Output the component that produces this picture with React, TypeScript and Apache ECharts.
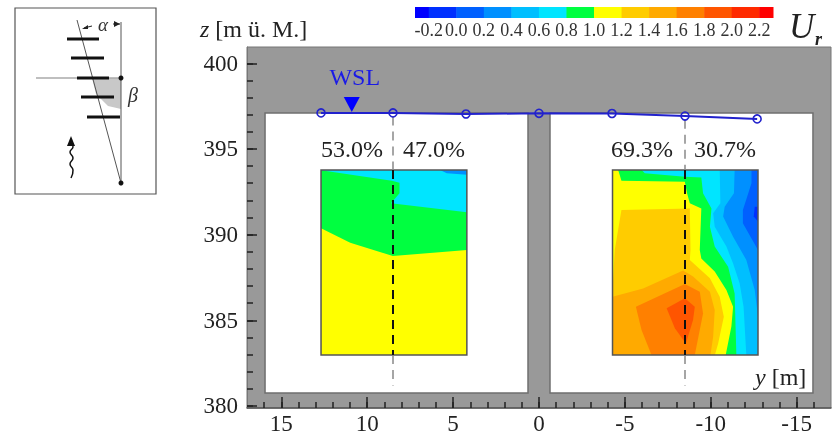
import React, { useEffect, useRef } from "react";
import * as echarts from "echarts";

const SERIF = '"Liberation Serif", "Times New Roman", serif';

const yMajorTicks = [400, 395, 390, 385, 380];
const yMinorTicks = [380,381,382,383,384,385,386,387,388,389,390,391,392,393,394,395,396,397,398,399,400];
const xMajorTicks = [15, 10, 5, 0, -5, -10, -15];
const xMinorTicks = [16,15,14,13,12,11,10,9,8,7,6,5,4,3,2,1,0,-1,-2,-3,-4,-5,-6,-7,-8,-9,-10,-11,-12,-13,-14,-15,-16];

const wsl = [[12.69,397.1],[8.5,397.1],[4.25,397.04],[0,397.08],[-4.25,397.07],[-8.5,396.92],[-12.7,396.75]];
const wslMarker = [[10.9,397.6]];

const panels = [
  [[15.95,397.1],[0.64,397.1],[0.64,380.75],[15.95,380.75]],
  [[-0.64,397.1],[-15.95,397.1],[-15.95,380.75],[-0.64,380.75]],
];

const Z_TOP = 393.77, Z_BOT = 382.97;
const frames = [
  [[12.69,Z_TOP],[4.2,Z_TOP],[4.2,Z_BOT],[12.69,Z_BOT]],
  [[-4.28,Z_TOP],[-12.75,Z_TOP],[-12.75,Z_BOT],[-4.28,Z_BOT]],
];

const C = { b1:"#0030ff", b2:"#0060ff", b3:"#0090ff", b4:"#00bfff", cy:"#00e5ff", gr:"#00ff40", ye:"#ffff00", y2:"#ffcc00", o1:"#ffaa00", o2:"#ff8000", o3:"#ff5500" };

const leftContours: [string, number[][]][] = [
  [C.ye, frames[0]],
  [C.gr, [[12.69,Z_TOP],[4.2,Z_TOP],[4.2,389.1],[8.51,388.75],[10.99,389.53],[12.69,390.37]]],
  [C.cy, [[12.69,393.75],[8.57,393.15],[8.12,393.03],[8.12,392.41],[8.62,391.83],[4.2,391.3],[4.2,Z_TOP],[12.69,Z_TOP]]],
  [C.b3, [[5.76,Z_TOP],[5.37,393.58],[4.2,393.5],[4.2,Z_TOP]]],
];

const rightContours: [string, number[][]][] = [
  [C.b3, frames[1]],
  [C.b2, [[-12.37,Z_TOP],[-12.75,Z_TOP],[-12.75,389.1],[-11.87,390.66],[-11.87,391.44],[-12.37,393.0]]],
  [C.b1, [[-12.56,391.63],[-12.75,391.63],[-12.75,390.76],[-12.5,391.05]]],
  [C.b4, [[-4.28,Z_TOP],[-11.39,Z_TOP],[-11.35,392.41],[-10.81,391.63],[-10.72,391.05],[-11.3,389.88],[-12.07,388.52],[-12.56,386.77],[-12.75,385.21],[-12.75,Z_BOT],[-4.28,Z_BOT]]],
  [C.cy, [[-4.28,Z_TOP],[-10.52,Z_TOP],[-10.56,391.83],[-10.14,391.24],[-10.23,390.46],[-10.91,389.3],[-11.3,388.32],[-11.68,387.16],[-11.91,385.79],[-12.07,Z_BOT],[-4.28,Z_BOT]]],
  [C.gr, [[-4.28,Z_TOP],[-5.97,Z_TOP],[-6.16,393.58],[-8.49,393.38],[-9.45,393.34],[-9.55,392.41],[-10.04,391.53],[-9.95,390.46],[-10.23,389.3],[-11.01,388.13],[-11.39,386.57],[-11.49,Z_BOT],[-4.28,Z_BOT]]],
  [C.ye, [[-4.28,Z_TOP],[-4.61,Z_TOP],[-4.8,393.15],[-8.49,393.09],[-8.62,392.41],[-8.78,391.83],[-9.45,391.53],[-9.36,389.1],[-9.45,388.61],[-10.23,387.84],[-10.91,386.77],[-11.3,385.79],[-11.2,384.63],[-10.87,Z_BOT],[-4.28,Z_BOT]]],
  [C.y2, [[-4.8,391.44],[-8.78,391.53],[-8.82,389.1],[-8.78,388.52],[-9.95,387.45],[-10.52,386.38],[-10.76,385.21],[-10.43,383.65],[-10.24,Z_BOT],[-4.28,Z_BOT],[-4.28,386.77],[-4.41,389.1]]],
  [C.o1, [[-4.28,386.38],[-6.06,386.86],[-8.39,387.9],[-8.97,387.55],[-9.95,386.67],[-10.23,385.6],[-10.14,384.04],[-9.98,Z_BOT],[-4.28,Z_BOT]]],
  [C.o2, [[-5.64,385.79],[-8.49,387.12],[-9.36,386.67],[-9.55,385.4],[-9.07,Z_BOT],[-6.55,Z_BOT],[-5.97,384.43]]],
  [C.o3, [[-7.43,385.7],[-8.49,386.28],[-9.07,385.79],[-8.97,385.02],[-8.55,383.65],[-7.91,384.53]]],
];

const centerBlack = [[[8.5,Z_TOP],[8.5,Z_BOT]],[[-8.5,Z_TOP],[-8.5,Z_BOT]]];
const centerGrey = [[[8.5,396.9],[8.5,Z_TOP]],[[8.5,Z_BOT],[8.5,381.2]],[[-8.5,396.7],[-8.5,Z_TOP]],[[-8.5,Z_BOT],[-8.5,381.2]]];

const colorLevels = [-0.3,-0.2,0,0.2,0.4,0.6,0.8,1.0,1.2,1.4,1.6,1.8,2.0,2.2,2.3];
const colorBands = ["#0000ff","#0030ff","#0060ff","#0090ff","#00bfff","#00e5ff","#00ff40","#ffff00","#ffcc00","#ffaa00","#ff8000","#ff5500","#ff2a00","#ff0000"];
const colorTicks = [-0.2,0,0.2,0.4,0.6,0.8,1.0,1.2,1.4,1.6,1.8,2.0,2.2];

const percentLabels = [["53.0%",352,149],["47.0%",434,149],["69.3%",642,149],["30.7%",725,149]];
const insetBars = [[67,99,39],[71,104,58],[77,109,78],[81,114,97],[87,120,117]];

function polygonSeries(list: any[], fillKey: boolean, extra: any = {}) {
  return {
    type: "custom", xAxisIndex: 0, yAxisIndex: 0, coordinateSystem: "cartesian2d", silent: true, clip: false,
    data: list.map((_: any, i: number) => [i]),
    renderItem: (params: any, api: any) => {
      const it = list[params.dataIndex];
      const pts = (fillKey ? it[1] : it).map((p: number[]) => api.coord(p));
      return { type: "polygon", shape: { points: pts }, style: fillKey ? { fill: it[0] } : extra };
    },
  };
}

function lineSeries(seg: number[][], color: string, width: number, dash: number[]) {
  return { type: "line", xAxisIndex: 0, yAxisIndex: 0, data: seg, symbol: "none", silent: true,
    lineStyle: { color, width, type: dash } };
}

const axisBase = { axisLabel: { show: false }, splitLine: { show: false } };

export default function App() {
  const ref = useRef<HTMLDivElement>(null);
  useEffect(() => {
    const chart = echarts.init(ref.current!, null, { renderer: "svg" });
    const tickLine = (w: number) => ({ color: "#222", width: w });
    const rich = {
      i: { fontFamily: SERIF, fontStyle: "italic", fontSize: 24, fill: "#222" },
      n: { fontFamily: SERIF, fontSize: 24, fill: "#222" },
    };
    chart.setOption({
      animation: false,
      backgroundColor: "#ffffff",
      grid: [
        { left: 247, top: 47, width: 584, height: 361, backgroundColor: "#999999", show: true, borderColor: "#777", borderWidth: 1 },
        { left: 415, top: 7, width: 358, height: 11 },
      ],
      xAxis: [
        { type: "value", gridIndex: 0, min: -17, max: 17, inverse: true, position: "bottom", z: 6,
          axisLine: { show: true, onZero: false, lineStyle: { color: "#555", width: 1.5 } },
          axisTick: { show: true, inside: true, length: 11, customValues: xMajorTicks, lineStyle: tickLine(1.5) },
          axisLabel: { show: true, customValues: xMajorTicks, margin: 4, fontFamily: SERIF, fontSize: 23, color: "#222" },
          splitLine: { show: false } },
        { type: "value", gridIndex: 0, min: -17, max: 17, inverse: true, position: "bottom", z: 6,
          axisLine: { show: false, onZero: false },
          axisTick: { show: true, inside: true, length: 6, customValues: xMinorTicks, lineStyle: tickLine(1.5) },
          ...axisBase },
        { type: "value", gridIndex: 1, min: -0.3, max: 2.3, position: "bottom",
          axisLine: { show: false, onZero: false }, axisTick: { show: false },
          axisLabel: { show: true, customValues: colorTicks, margin: 3, fontFamily: SERIF, fontSize: 18, color: "#333",
            formatter: (v: number) => v.toFixed(1) },
          splitLine: { show: false } },
      ],
      yAxis: [
        { type: "value", gridIndex: 0, min: 379.88, max: 400.95, position: "left", z: 6,
          axisLine: { show: true, onZero: false, lineStyle: { color: "#777", width: 1 } },
          axisTick: { show: true, inside: true, length: 10, customValues: yMajorTicks, lineStyle: tickLine(1.5) },
          axisLabel: { show: true, customValues: yMajorTicks, margin: 9, fontFamily: SERIF, fontSize: 23, color: "#222" },
          splitLine: { show: false } },
        { type: "value", gridIndex: 0, min: 379.88, max: 400.95, position: "left", z: 6,
          axisLine: { show: false, onZero: false },
          axisTick: { show: true, inside: true, length: 6, customValues: yMinorTicks, lineStyle: tickLine(1.5) },
          ...axisBase },
        { type: "value", gridIndex: 1, min: 0, max: 1, show: false },
      ],
      series: [
        polygonSeries(panels, false, { fill: "#ffffff", stroke: "#6f6f6f", lineWidth: 1.5 }),
        polygonSeries(leftContours, true),
        polygonSeries(rightContours, true),
        polygonSeries(frames, false, { fill: "none", stroke: "#555", lineWidth: 1.5 }),
        ...centerGrey.map((s) => lineSeries(s, "#888", 1.5, [9, 6])),
        ...centerBlack.map((s) => lineSeries(s, "#111", 2, [9, 6])),
        { type: "line", xAxisIndex: 0, yAxisIndex: 0, data: wsl, symbol: "circle", symbolSize: 8, showAllSymbol: true, silent: true, z: 5,
          itemStyle: { color: "rgba(0,0,0,0)", borderColor: "#2222cc", borderWidth: 1.6 },
          lineStyle: { color: "#2222cc", width: 2 } },
        { type: "scatter", xAxisIndex: 0, yAxisIndex: 0, data: wslMarker, symbol: "triangle", symbolRotate: 180,
          symbolSize: [16, 15], silent: true, itemStyle: { color: "#0000ff", opacity: 1 },
          label: { show: true, position: "top", distance: 8, offset: [3, 0], formatter: "WSL", color: "#1a1ae6", fontFamily: SERIF, fontSize: 24 } },
        { type: "custom", xAxisIndex: 2, yAxisIndex: 2, silent: true,
          data: colorBands.map((_, i) => [i]),
          renderItem: (params: any, api: any) => {
            const i = params.dataIndex;
            const a = api.coord([colorLevels[i], 1]);
            const b = api.coord([colorLevels[i + 1], 0]);
            return { type: "rect", shape: { x: a[0], y: a[1], width: b[0] - a[0] + 0.5, height: b[1] - a[1] }, style: { fill: colorBands[i] } };
          } },
      ],
      graphic: [
        ...percentLabels.map(([t, x, y]) => ({ type: "text", z: 20, x, y,
          style: { text: t, fill: "#222", font: `24px ${SERIF}`, align: "center", verticalAlign: "middle" } })),
        { type: "text", z: 20, x: 200, y: 29, style: { rich, text: "{i|z}{n| [m ü. M.]}", verticalAlign: "middle" } },
        { type: "text", z: 20, x: 755, y: 377, style: { rich, text: "{i|y}{n| [m]}", verticalAlign: "middle" } },
        { type: "text", z: 20, x: 789, y: 26, style: { text: "U", fill: "#222", font: `italic 35px ${SERIF}`, verticalAlign: "middle" } },
        { type: "text", z: 20, x: 815, y: 39, style: { text: "r", fill: "#222", font: `italic bold 18px ${SERIF}`, verticalAlign: "middle" } },
        // inset sketch
        { type: "rect", shape: { x: 15, y: 8, width: 141, height: 186 }, style: { fill: "#fff", stroke: "#555", lineWidth: 1.2 } },
        { type: "polygon", shape: { points: [[92,78],[121,78],[121,109],[108,106],[96,94]] }, style: { fill: "#c8c8c8" } },
        { type: "line", shape: { x1: 36, y1: 78, x2: 121, y2: 78 }, style: { stroke: "#aaa", lineWidth: 1.5 } },
        { type: "line", shape: { x1: 77, y1: 20, x2: 121, y2: 183 }, style: { stroke: "#555", lineWidth: 1 } },
        { type: "line", shape: { x1: 121, y1: 22, x2: 121, y2: 183 }, style: { stroke: "#555", lineWidth: 1 } },
        ...insetBars.map(([a, b, y]) => ({ type: "line", shape: { x1: a, y1: y, x2: b, y2: y }, style: { stroke: "#111", lineWidth: 3 } })),
        { type: "circle", shape: { cx: 121, cy: 78, r: 2.5 }, style: { fill: "#111" } },
        { type: "circle", shape: { cx: 121, cy: 183, r: 2.5 }, style: { fill: "#111" } },
        { type: "text", x: 103, y: 24, style: { text: "α", fill: "#333", font: `italic 19px ${SERIF}`, align: "center", verticalAlign: "middle" } },
        { type: "text", x: 133, y: 95, style: { text: "β", fill: "#333", font: `italic 20px ${SERIF}`, align: "center", verticalAlign: "middle" } },
        { type: "line", shape: { x1: 84, y1: 28, x2: 92, y2: 26 }, style: { stroke: "#222", lineWidth: 1 } },
        { type: "polygon", shape: { points: [[82,29],[88,25],[88,29]] }, style: { fill: "#222" } },
        { type: "line", shape: { x1: 113, y1: 24, x2: 120, y2: 24 }, style: { stroke: "#222", lineWidth: 1 } },
        { type: "polygon", shape: { points: [[120,24],[114,21],[114,27]] }, style: { fill: "#222" } },
        { type: "polyline", shape: { points: [[71,142],[73,147],[70,152],[73,158],[70,164],[73,170],[71,178]], smooth: 0.5 }, style: { stroke: "#111", lineWidth: 1.5, fill: "none" } },
        { type: "polygon", shape: { points: [[71,136],[67,146],[75,146]] }, style: { fill: "#111" } },
      ],
    });
    return () => chart.dispose();
  }, []);
  return <div ref={ref} style={{ position: "fixed", left: 0, top: 0, width: 837, height: 437, filter: "blur(0.5px)" }} />;
}
